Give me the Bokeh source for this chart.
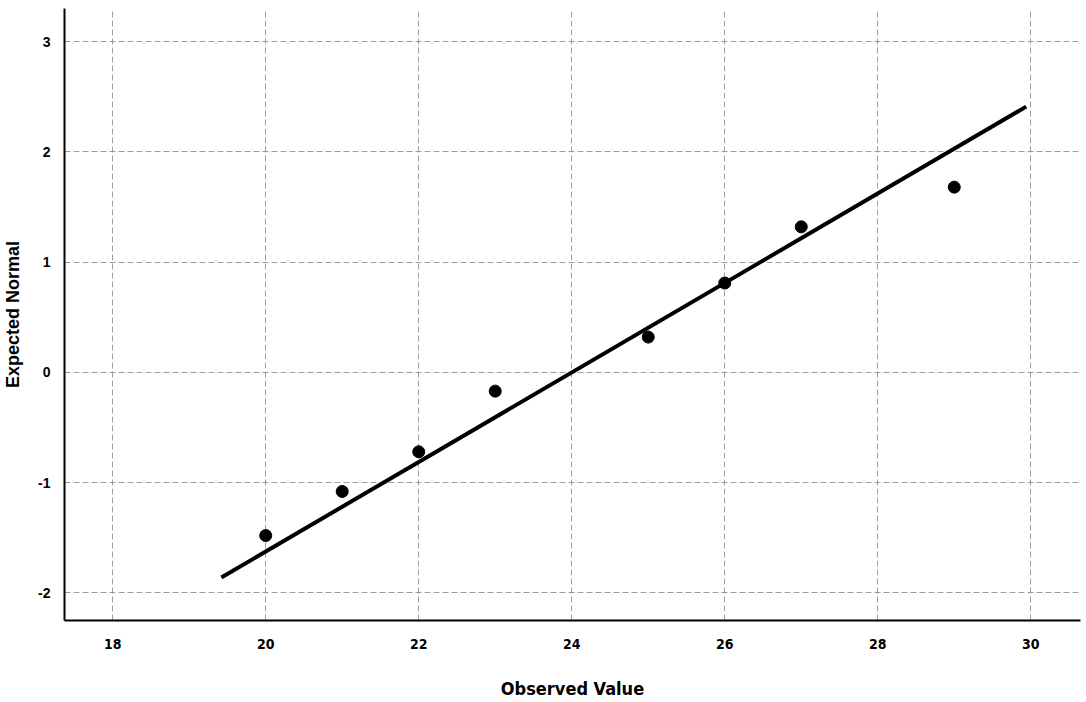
from bokeh.plotting import figure
from bokeh.models import Range1d, FixedTicker
from bokeh.embed import file_html
from bokeh.resources import INLINE

# Data
observed = [20, 21, 22, 23, 25, 26, 27, 29]
expected = [-1.48, -1.08, -0.72, -0.17, 0.32, 0.81, 1.32, 1.68]
line_x = [19.42, 29.94]
line_y = [-1.86, 2.41]
x_ticks = [18, 20, 22, 24, 26, 28, 30]
y_ticks = [-2, -1, 0, 1, 2, 3]

p = figure(width=1086, height=702, output_backend="svg", toolbar_location=None,
           x_range=Range1d(17.37, 30.65), y_range=Range1d(-2.25, 3.3),
           min_border_left=63, min_border_right=6, min_border_top=8, min_border_bottom=82)
p.outline_line_color = None
p.background_fill_color = "white"

p.line(line_x, line_y, line_color="black", line_width=4)
p.scatter(observed, expected, size=12, color="black")

for ax in (p.xaxis[0], p.yaxis[0]):
    ax.axis_line_color = "black"
    ax.axis_line_width = 2
    ax.major_tick_line_color = None
    ax.minor_tick_line_color = None
    ax.major_label_text_color = "black"
    ax.axis_label_text_color = "black"
    ax.axis_label_text_font_style = "bold"

cond = "'DejaVu Sans Condensed', 'Liberation Sans', sans-serif"
p.xaxis.ticker = FixedTicker(ticks=x_ticks)
p.yaxis.ticker = FixedTicker(ticks=y_ticks)
p.xaxis.axis_label = "Observed Value"
p.yaxis.axis_label = "Expected Normal"
p.xaxis.major_label_text_font = cond
p.xaxis.major_label_text_font_size = "14px"
p.xaxis.major_label_text_font_style = "bold"
p.xaxis.major_label_standoff = 12
p.xaxis.axis_label_text_font = cond
p.xaxis.axis_label_text_font_size = "18px"
p.xaxis.axis_label_text_font_style = "bold"
p.xaxis.axis_label_standoff = 26
p.yaxis.major_label_text_font = "Liberation Sans"
p.yaxis.major_label_text_font_size = "14px"
p.yaxis.major_label_text_font_style = "bold"
p.yaxis.major_label_standoff = 8
p.yaxis.major_label_overrides = {-2: "-2", -1: "-1"}
p.yaxis.axis_label_text_font = "Liberation Sans"
p.yaxis.axis_label_text_font_size = "18px"
p.yaxis.axis_label_standoff = 12

p.xgrid.ticker = FixedTicker(ticks=x_ticks)
p.ygrid.ticker = FixedTicker(ticks=y_ticks)
for g in (p.xgrid[0], p.ygrid[0]):
    g.grid_line_color = "#888888"
    g.grid_line_width = 1
    g.grid_line_dash = "6 3"
    g.grid_line_alpha = 0.8

open("out.html", "w").write(file_html(p, INLINE))
